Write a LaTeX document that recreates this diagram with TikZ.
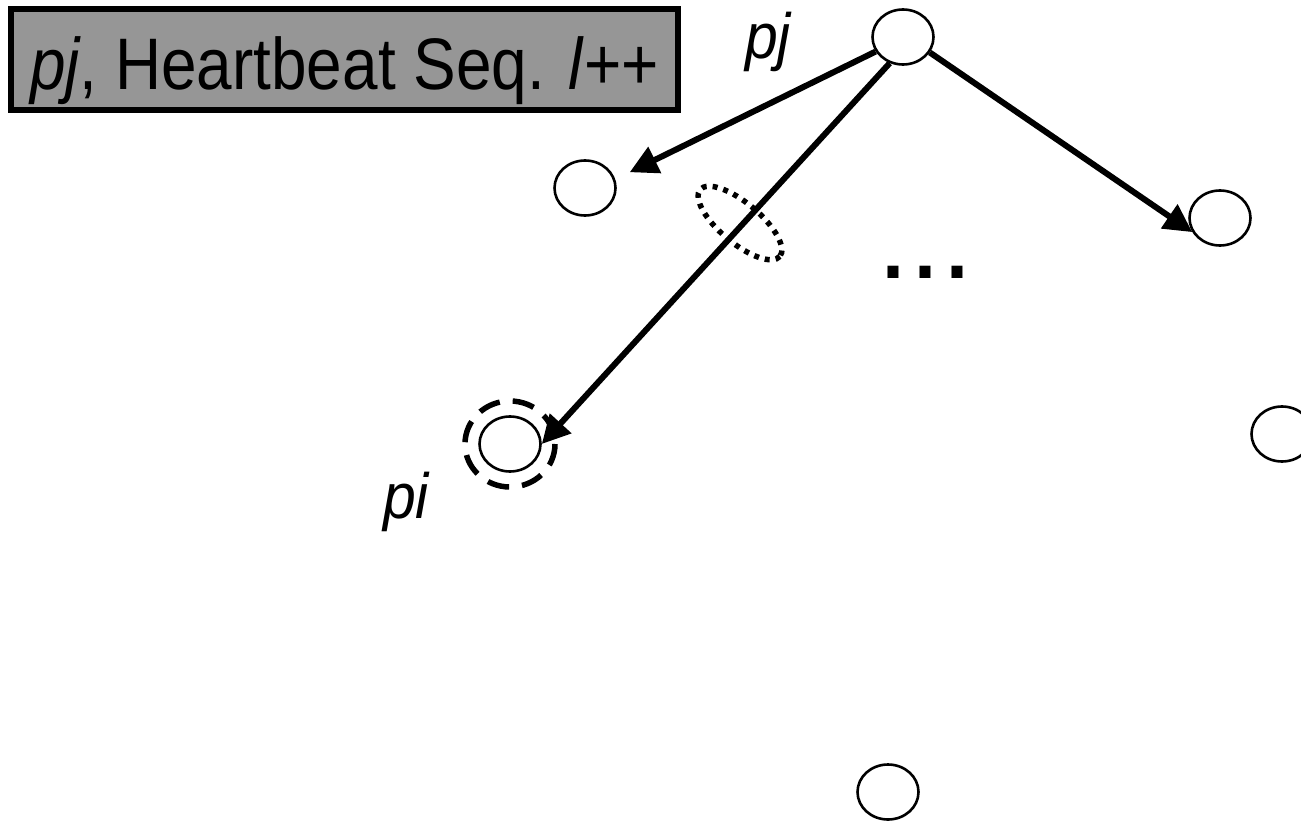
\documentclass[tikz,border=0pt]{standalone}
\usepackage{fontspec}
\setmainfont{Liberation Sans}
\usetikzlibrary{arrows.meta,shapes.geometric}
\begin{document}
\begin{tikzpicture}[x=1pt,y=-1pt,
  proc/.style={draw=black,line width=2.6pt,ellipse,minimum width=61pt,minimum height=55pt,inner sep=0pt},
  msg/.style={line width=6pt,-{Triangle[length=28pt,width=28pt]}},
  lbl/.style={font=\fontsize{64}{64}\selectfont\itshape},
  banner/.style={draw=black,line width=6pt,fill=black!41,inner sep=0pt,minimum width=667pt,minimum height=101pt,text height=70pt,text depth=9pt,font=\fontsize{73}{73}\selectfont}
]
\useasboundingbox (0,0) rectangle (1301,821);
\node[banner] (title) at (344.5,59.5) {\scalebox{0.875}[1]{\textit{pj}, Heartbeat Seq. \textit{l}++}};
\node[proc] (top) at (903,37) {};
\node[proc] (left) at (585,188) {};
\node[proc] (right) at (1220,218) {};
\node[proc] (pi) at (510,444) {};
\node[proc] (edge) at (1282,434) {};
\node[proc] (bottom) at (888,792) {};
\node[lbl] (pjlabel) at (768,42) {\scalebox{0.92}[1]{pj}};
\node[lbl] (pilabel) at (406,502) {\scalebox{0.92}[1]{pi}};
\draw[line width=5.5pt,dash pattern=on 22pt off 13pt] (pi) ellipse [x radius=45, y radius=43];
\draw[msg,shorten >=16pt] (top.208) -- (left.16);
\draw[msg] (top.243) -- (pi.east);
\draw[msg] (top.-30) -- (right.207);
\draw[line width=5.5pt,dash pattern=on 5pt off 6pt] (740,223) ellipse [x radius=52, y radius=20, rotate=-40];
\node[font=\fontsize{115}{115}\selectfont,anchor=base,inner sep=0pt] (dots) at (925,278) {...};
\end{tikzpicture}
\end{document}
